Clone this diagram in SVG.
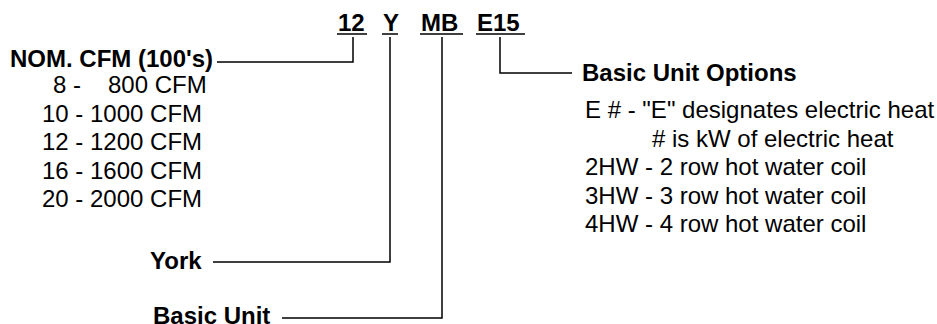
<svg xmlns="http://www.w3.org/2000/svg" width="937" height="324" viewBox="0 0 937 324">
<style>
text{font-family:"Liberation Sans",Arial,sans-serif;font-size:24px;fill:#000}
.b{font-weight:bold}
.ln{stroke:#000;stroke-width:1.5;fill:none}
</style>
<rect width="937" height="324" fill="#fff"/>
<g id="model-code">
<text class="b" x="338" y="31">12</text>
<text class="b" x="383" y="31">Y</text>
<text class="b" x="421" y="31">MB</text>
<text class="b" x="477" y="31">E15</text>
<line class="ln" x1="337" y1="34" x2="367" y2="34"/>
<line class="ln" x1="382" y1="34" x2="398" y2="34"/>
<line class="ln" x1="420" y1="34" x2="463" y2="34"/>
<line class="ln" x1="476" y1="34" x2="525" y2="34"/>
</g>
<g id="cfm">
<text class="b" x="10" y="67">NOM. CFM (100's)</text>
<text y="93"><tspan x="53">8 -</tspan><tspan x="108">800 CFM</tspan></text>
<text x="42" y="121.5">10 - 1000 CFM</text>
<text x="42" y="150">12 - 1200 CFM</text>
<text x="42" y="178.5">16 - 1600 CFM</text>
<text x="42" y="207">20 - 2000 CFM</text>
</g>
<g id="york">
<text class="b" x="150" y="269">York</text>
</g>
<g id="basic-unit">
<text class="b" x="153" y="324">Basic Unit</text>
</g>
<g id="options">
<text class="b" x="582" y="81">Basic Unit Options</text>
<text x="585" y="118">E # - "E" designates electric heat</text>
<text x="652" y="146.5">#  is kW of electric heat</text>
<text x="585" y="175">2HW - 2 row hot water coil</text>
<text x="585" y="203.5">3HW - 3 row hot water coil</text>
<text x="585" y="232">4HW - 4 row hot water coil</text>
</g>
<g id="connectors">
<polyline class="ln" points="217,62 353,62 353,37"/>
<polyline class="ln" points="213,262 390,262 390,37"/>
<polyline class="ln" points="282,318 442,318 442,37"/>
<polyline class="ln" points="500,37 500,73 572,73"/>
</g>
</svg>
